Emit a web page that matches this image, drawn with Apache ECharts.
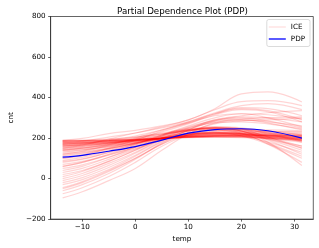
<!DOCTYPE html>
<html><head><meta charset="utf-8">
<script src="https://cdn.jsdelivr.net/npm/echarts@6/dist/echarts.min.js"></script>
<style>html,body{margin:0;padding:0;background:#fff}#c{width:319px;height:248px}</style>
</head><body><div id="c"></div>
<script>
const tempGrid = [-13.7, -10, -5, 0, 5, 10, 15, 20, 25, 31.4];
const pdpValues = [106, 115, 135, 158, 190, 224, 242, 246, 236, 200];
const xTicks = [-10, 0, 10, 20, 30];
const yTicks = [-200, 0, 200, 400, 600, 800];
const iceCurves = [
  [188,198,222,238,260,290,345,418,428,378],
  [150,165,195,225,255,290,340,380,385,360],
  [120,135,165,200,240,280,325,360,370,340],
  [175,185,205,225,250,280,320,345,335,290],
  [100,115,150,190,235,275,320,350,345,310],
  [160,170,190,210,240,275,310,320,300,255],
  [140,150,170,195,230,270,315,340,330,280],
  [60,80,120,165,215,260,300,320,315,295],
  [20,40,85,140,200,250,290,310,325,335],
  [-20,5,55,115,185,240,285,305,300,280],
  [-60,-30,25,95,175,240,290,300,285,250],
  [-95,-65,-10,50,140,220,275,290,275,240],
  [-45,-15,40,100,170,230,270,285,290,300],
  [0,25,75,130,195,245,280,290,280,260],
  [40,60,105,155,210,255,285,295,300,305],
  [80,95,130,170,215,250,275,280,270,245],
  [130,140,160,185,215,240,250,245,220,180],
  [170,175,185,200,220,240,250,245,225,185],
  [110,120,145,175,210,238,250,240,205,150],
  [90,105,135,170,210,240,250,235,190,120],
  [150,158,175,195,220,240,245,225,170,80],
  [60,80,115,155,200,235,250,235,180,65],
  [140,150,168,190,215,235,240,220,175,110],
  [30,50,95,145,195,235,250,235,195,140],
  [-10,15,65,125,190,235,255,245,205,160],
  [-30,-5,45,110,180,225,245,235,200,150],
  [170,176,188,205,225,245,255,250,230,200],
  [185,188,195,205,220,235,245,245,235,215],
  [185,186,188,192,198,204,208,208,205,200],
  [180,181,184,189,196,203,206,205,200,192],
  [178,179,183,190,199,207,211,212,210,205],
  [188,188,190,194,199,203,204,202,196,188],
  [175,176,180,187,197,206,212,214,212,208],
  [170,172,177,186,198,208,214,216,214,210],
  [165,168,175,186,200,211,218,220,218,213],
  [182,183,186,191,198,205,210,212,212,210],
  [160,163,171,183,198,210,216,216,210,200],
  [155,160,168,182,198,212,220,222,218,212],
  [186,187,189,193,200,207,212,214,214,214],
  [172,174,179,188,199,207,210,208,200,188],
  [150,155,165,180,198,213,222,225,224,222],
  [145,150,162,178,198,215,225,230,232,232],
  [140,146,158,176,198,216,226,228,224,218],
  [135,142,156,175,198,218,230,234,232,228],
  [125,133,150,172,198,220,234,240,240,236],
  [168,171,178,190,203,212,214,210,198,180],
  [183,184,187,192,199,206,210,210,205,196],
  [177,178,182,189,198,206,210,209,203,195],
  [162,166,174,186,200,212,218,218,212,200],
  [190,190,191,194,198,202,205,204,200,194],
  [100,112,140,170,200,220,226,222,212,200],
  [70,85,118,155,192,215,225,222,210,195],
  [50,68,105,148,190,214,222,218,205,185],
  [115,125,148,175,202,220,225,220,208,190],
  [85,98,128,162,196,218,226,224,215,205],
  [-75,-45,10,80,160,215,240,240,225,205],
  [10,35,85,140,192,225,238,232,215,190],
  [-50,-20,35,100,170,215,230,222,195,160],
  [160,165,175,190,208,222,225,212,180,130],
  [120,128,148,175,205,225,228,210,170,100]
];

const FONT = 'DejaVu Sans';
const ICE_COLOR = 'rgba(255,0,0,0.17)';
const minusFmt = v => String(v).replace('-', '\u2212');
const toPairs = vals => vals.map((v, i) => [tempGrid[i], v]);

const series = iceCurves.map(c => ({
  name: 'ICE', type: 'line', data: toPairs(c), smooth: 0.4,
  symbol: 'none', showSymbol: false, silent: true,
  lineStyle: { color: ICE_COLOR, width: 1.2 },
  itemStyle: { color: ICE_COLOR }
}));
series.push({
  name: 'PDP', type: 'line', data: toPairs(pdpValues), smooth: 0.4,
  symbol: 'none', showSymbol: false, z: 5,
  lineStyle: { color: '#0000ff', width: 1.2 }, itemStyle: { color: '#0000ff' }
});

const LINE_ICON = 'path://M0,0h40v3h-40z';
const chart = echarts.init(document.getElementById('c'), null, { renderer: 'canvas' });
chart.setOption({
  animation: false,
  backgroundColor: '#fff',
  title: { text: 'Partial Dependence Plot (PDP)', left: 177.5, textAlign: 'center', top: 2,
    textStyle: { fontFamily: FONT, fontSize: 8.7, fontWeight: 'normal', color: '#000' } },
  legend: {
    data: [
      { name: 'ICE', icon: LINE_ICON, itemStyle: { color: 'rgba(255,0,0,0.13)' } },
      { name: 'PDP', icon: LINE_ICON, itemStyle: { color: '#0000ff' } }
    ],
    orient: 'vertical', right: 9, top: 19.5,
    itemWidth: 17, itemHeight: 1.3, itemGap: 5, symbolKeepAspect: false,
    padding: [4, 5, 4, 2],
    borderColor: '#cccccc', borderWidth: 0.7, borderRadius: 2,
    backgroundColor: 'rgba(255,255,255,0.8)',
    textStyle: { fontFamily: FONT, fontSize: 7.2, color: '#000' }
  },
  grid: { left: 41.7, right: 5.7, top: 16.5, bottom: 28.7, show: true,
    borderColor: '#222', borderWidth: 0.7, backgroundColor: 'transparent' },
  xAxis: {
    type: 'value', min: -15.96, max: 33.55,
    name: 'temp', nameLocation: 'middle', nameGap: 15,
    nameTextStyle: { fontFamily: FONT, fontSize: 7.2, color: '#000' },
    axisLine: { show: true, onZero: false, lineStyle: { color: '#222', width: 0.7 } },
    axisTick: { show: true, length: 2.5, customValues: xTicks, lineStyle: { color: '#222', width: 0.7 } },
    axisLabel: { customValues: xTicks, margin: 5, formatter: minusFmt,
      fontFamily: FONT, fontSize: 7.2, color: '#000' },
    splitLine: { show: false }
  },
  yAxis: {
    type: 'value', min: -200, max: 800, interval: 200,
    name: 'cnt', nameLocation: 'middle', nameGap: 28, nameRotate: 90,
    nameTextStyle: { fontFamily: FONT, fontSize: 7.2, color: '#000' },
    axisLine: { show: true, onZero: false, lineStyle: { color: '#222', width: 0.7 } },
    axisTick: { show: true, length: 2.5, customValues: yTicks, lineStyle: { color: '#222', width: 0.7 } },
    axisLabel: { customValues: yTicks, margin: 5, formatter: minusFmt,
      fontFamily: FONT, fontSize: 7.2, color: '#000' },
    splitLine: { show: false }
  },
  series: series
});
</script></body></html>
